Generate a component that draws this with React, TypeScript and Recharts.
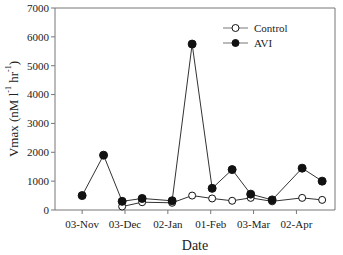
import React from "react";
import {
  LineChart,
  Line,
  XAxis,
  YAxis,
  ReferenceLine,
} from "recharts";

const days = [0, 15, 28, 42, 63, 77, 91, 105, 118, 133, 154, 168];
const avi = [500, 1900, 300, 400, 320, 5750, 750, 1400, 550, 350, 1450, 1000];
const control = [null, null, 120, 270, 250, 500, 400, 320, 420, 300, 420, 350];

const xTickDays = [0, 30, 60, 90, 120, 150];
const xTickLabels = ["03-Nov", "03-Dec", "02-Jan", "01-Feb", "03-Mar", "02-Apr"];
const yTicks = [0, 1000, 2000, 3000, 4000, 5000, 6000, 7000];

const chartData = days.map((d, i) => ({ day: d, avi: avi[i], control: control[i] }));

const FONT = "'Liberation Serif', 'Times New Roman', serif";
const INK = "#333";

function YLabel({ viewBox }: any) {
  const cx = 13;
  const cy = viewBox.y + viewBox.height / 2;
  return (
    <text
      x={cx}
      y={cy}
      transform={`rotate(-90 ${cx} ${cy})`}
      textAnchor="middle"
      dominantBaseline="central"
      fontFamily={FONT}
      fontSize={13}
      fill="#222"
    >
      Vmax (nM l
      <tspan dy={-5} fontSize={8}>-1</tspan>
      <tspan dy={5}> hr</tspan>
      <tspan dy={-5} fontSize={8}>-1</tspan>
      <tspan dy={5}>)</tspan>
    </text>
  );
}

function LegendBox() {
  const row = (label: string, fill: string, y: number) => (
    <g>
      <line x1={0} x2={25} y1={y} y2={y} stroke="#777" strokeWidth={1} />
      <circle cx={12.5} cy={y} r={3.5} fill={fill} stroke="#111" strokeWidth={1} />
      <text x={31} y={y} dominantBaseline="central" fontFamily={FONT} fontSize={11} fill="#222">
        {label}
      </text>
    </g>
  );
  return (
    <svg width={90} height={34} style={{ position: "absolute", left: 223, top: 20 }}>
      {row("Control", "#fff", 8)}
      {row("AVI", "#111", 23)}
    </svg>
  );
}

export default function App() {
  return (
    <div style={{ position: "fixed", left: 0, top: 0, width: 343, height: 255, background: "#fff" }}>
      <LineChart
        width={343}
        height={255}
        data={chartData}
        margin={{ top: 8, right: 8, left: 0, bottom: 0 }}
      >
        <XAxis
          dataKey="day"
          type="number"
          domain={[-19, 177]}
          ticks={xTickDays}
          tickFormatter={(v: number) => xTickLabels[xTickDays.indexOf(v)]}
          tick={{ fontFamily: FONT, fontSize: 11, fill: "#222" }}
          tickSize={4}
          tickMargin={6}
          tickLine={{ stroke: "#777" }}
          axisLine={{ stroke: "#777" }}
          height={45}
          label={{
            value: "Date",
            position: "insideBottom",
            offset: 5,
            fontFamily: FONT,
            fontSize: 14,
            fill: "#222",
          }}
        />
        <YAxis
          domain={[0, 7000]}
          ticks={yTicks}
          tick={{ fontFamily: FONT, fontSize: 11, fill: "#222" }}
          tickSize={4}
          tickLine={{ stroke: "#777" }}
          axisLine={{ stroke: "#777" }}
          width={55}
          label={<YLabel />}
        />
        <ReferenceLine y={7000} stroke="#777" ifOverflow="extendDomain" />
        <ReferenceLine x={177} stroke="#777" ifOverflow="extendDomain" />
        <Line
          type="linear"
          dataKey="control"
          stroke={INK}
          strokeWidth={1}
          dot={{ r: 3.5, fill: "#fff", stroke: "#111", strokeWidth: 1 }}
          isAnimationActive={false}
        />
        <Line
          type="linear"
          dataKey="avi"
          stroke={INK}
          strokeWidth={1}
          dot={{ r: 4, fill: "#111", stroke: "#111", strokeWidth: 1 }}
          isAnimationActive={false}
        />
      </LineChart>
      <LegendBox />
    </div>
  );
}
